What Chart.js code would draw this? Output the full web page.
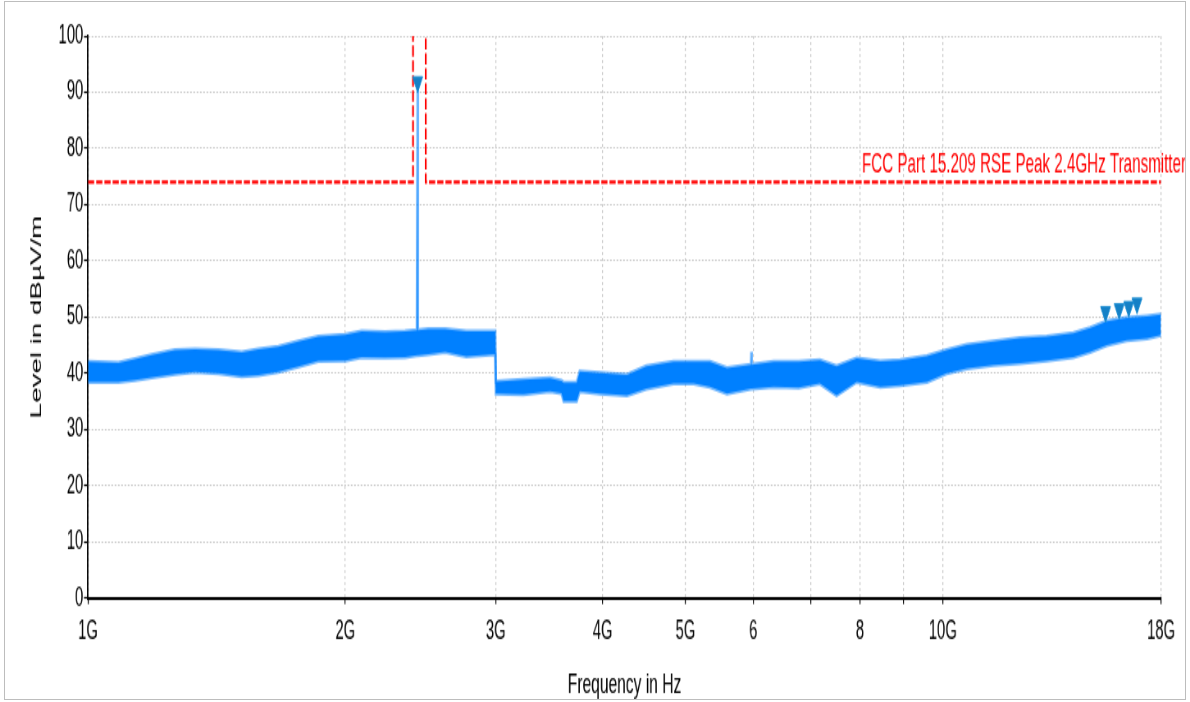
<!DOCTYPE html>
<html>
<head>
<meta charset="utf-8">
<script src="https://cdn.jsdelivr.net/npm/chart.js@4/dist/chart.umd.min.js"></script>
<style>
  body { margin: 0; background: #fff; }
  #wrap { position: relative; width: 1190px; height: 702px; }
  #frame { position: absolute; left: 4px; top: 1px; width: 1180px; height: 697px; border: 1.5px solid #bdbdbd; pointer-events: none; }
</style>
</head>
<body>
<div id="wrap">
  <!-- drawn on a wider, shorter canvas and stretched, like the original screenshot -->
  <canvas id="chart" width="1451" height="468" style="display:block;width:1190px;height:702px"></canvas>
  <div id="frame"></div>
</div>
<script>
const freqGHz = [1.00, 1.085, 1.135, 1.187, 1.264, 1.334, 1.421, 1.513, 1.582, 1.670, 1.762, 1.860, 2.00, 2.09, 2.226, 2.349, 2.425, 2.428, 2.430, 2.432,
  2.501, 2.617, 2.77, 2.995, 3.0, 3.23, 3.47, 3.58, 3.60, 3.73, 3.76, 3.97, 4.27, 4.50, 4.84, 5.11, 5.34, 5.59, 5.965, 5.97, 5.975, 6.34, 6.78,
  7.18, 7.51, 7.93, 8.45, 8.91, 9.58, 10.1, 10.67, 11.46, 12.31, 13.23, 14.21, 14.87, 15.55, 16.41, 17.33, 18.0];
const levelUpper = [42.0, 41.8, 42.5, 43.2, 44.1, 44.2, 44.1, 43.7, 44.2, 44.7, 45.6, 46.5, 46.8, 47.4, 47.3, 47.4, 47.6, 47.6, 91.0, 47.6,
  47.8, 47.8, 47.4, 47.4, 38.5, 38.8, 39.1, 38.6, 38.3, 38.3, 40.3, 40.0, 39.7, 41.2, 42.0, 42.0, 42.0, 40.9, 41.5, 43.8, 41.5, 42.0, 42.0,
  42.3, 41.2, 42.6, 42.1, 42.3, 43.0, 44.1, 45.0, 45.6, 46.2, 46.5, 47.1, 48.0, 49.2, 49.8, 50.1, 50.4];
const levelLower = [38.5, 38.5, 38.8, 39.3, 39.9, 40.3, 40.0, 39.5, 39.7, 40.3, 41.2, 42.2, 42.3, 42.9, 42.8, 42.9, 43.2, 43.2, 43.2, 43.2,
  43.4, 43.8, 43.0, 43.4, 36.4, 36.3, 36.8, 36.5, 35.1, 35.1, 36.8, 36.4, 36.1, 37.3, 38.2, 38.2, 37.6, 36.4, 37.3, 37.3, 37.3, 37.6, 37.5,
  38.2, 36.1, 38.5, 37.6, 37.9, 38.5, 40.0, 40.9, 41.5, 41.8, 42.3, 42.9, 43.8, 45.0, 45.9, 46.2, 46.8];

// peak markers
const markerGHz = [2.43, 15.5, 16.08, 16.5, 16.87];
const markerLevel = [91.8, 50.9, 51.4, 51.8, 52.4];

// FCC limit line (restricted band 2.4-2.4835 GHz goes off the top)
const limitGHz = [1, 2.4, 2.4, 2.4835, 2.4835, 18];
const limitLevel = [74, 74, 200, 200, 74, 74];
const limitLabel = 'FCC Part 15.209 RSE Peak 2.4GHz Transmitter';

const tickValues = [1, 2, 3, 4, 5, 6, 7, 8, 9, 10, 18];
const tickLabels = ['1G', '2G', '3G', '4G', '5G', '6', '', '8', '', '10G', '18G'];

const sans = "'Liberation Sans', Arial, sans-serif";
const blue = '#0080ff';
const blueEdge = 'rgba(0, 128, 255, 0.55)';

const pts = (xs, ys) => xs.map((x, i) => ({ x: x, y: ys[i] }));

const limitText = {
  id: 'limitText',
  afterDatasetsDraw(chart) {
    const ctx = chart.ctx;
    const x = chart.scales.x, y = chart.scales.y;
    ctx.save();
    ctx.font = '18.5px ' + sans;
    ctx.fillStyle = '#ff0000';
    ctx.textAlign = 'right';
    ctx.textBaseline = 'alphabetic';
    ctx.fillText(limitLabel, x.right + 30.5, y.getPixelForValue(74) - 6.5);
    ctx.restore();
  }
};

new Chart(document.getElementById('chart'), {
  type: 'line',
  data: {
    datasets: [
      {
        label: 'markers',
        data: pts(markerGHz, markerLevel),
        showLine: false,
        pointStyle: 'triangle',
        rotation: 180,
        pointRadius: 7,
        backgroundColor: '#1480c6',
        borderColor: '#1a8cd2',
        borderWidth: 1
      },
      {
        label: 'limit',
        data: pts(limitGHz, limitLevel),
        borderColor: '#ff0000',
        borderWidth: 2.2,
        borderDash: [7.5, 2.5],
        pointRadius: 0,
        fill: false
      },
      {
        label: 'upper',
        data: pts(freqGHz, levelUpper),
        borderColor: blueEdge,
        backgroundColor: blue,
        borderWidth: 3,
        pointRadius: 0,
        fill: '+1'
      },
      {
        label: 'lower',
        data: pts(freqGHz, levelLower),
        borderColor: blueEdge,
        borderWidth: 3,
        pointRadius: 0,
        fill: false
      }
    ]
  },
  options: {
    responsive: false,
    animation: false,
    layout: { padding: { left: 0, top: 24, right: 35.3, bottom: 0 } },
    plugins: {
      legend: { display: false },
      tooltip: { enabled: false }
    },
    scales: {
      x: {
        type: 'logarithmic',
        min: 1,
        max: 18,
        afterBuildTicks: (scale) => { scale.ticks = tickValues.map(v => ({ value: v })); },
        afterFit: (scale) => { scale.height = 69.33; },
        ticks: {
          autoSkip: false,
          maxRotation: 0,
          padding: 8,
          color: '#000',
          font: { family: sans, size: 18 },
          callback: (v, i) => tickLabels[i]
        },
        grid: { color: '#c8c8c8', lineWidth: 1.2, tickColor: '#000', tickLength: 4, tickWidth: 1.2 },
        border: { color: '#000', width: 2, dash: [2, 2] },
        title: {
          display: true,
          text: 'Frequency in Hz',
          color: '#000',
          font: { family: sans, size: 19, lineHeight: 1 },
          padding: { top: 0, bottom: 1.5 }
        }
      },
      y: {
        min: 0,
        max: 100,
        afterFit: (scale) => { scale.width = 107.3; },
        ticks: {
          stepSize: 5,
          padding: 1,
          color: '#000',
          font: { family: sans, size: 18 },
          callback: (v) => (v % 10 === 0 ? v : '')
        },
        grid: { color: '#c8c8c8', lineWidth: 1, tickColor: '#000', tickLength: 4.9, tickWidth: 1.2 },
        border: { color: '#000', width: 1.8, dash: [2, 2] },
        title: {
          display: true,
          text: 'Level in dBµV/m',
          color: '#000',
          font: { family: sans, size: 18.5 },
          padding: { top: 34, bottom: 0 }
        }
      }
    }
  },
  plugins: [limitText]
});
</script>
</body>
</html>
